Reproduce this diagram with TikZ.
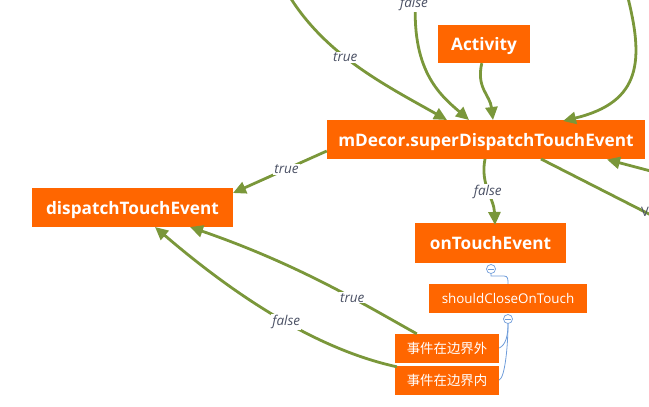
\documentclass[tikz,border=0pt]{standalone}
\usepackage{fontspec}
\setmainfont{Open Sans}
\newfontfamily\cjkf{Noto Sans CJK SC}
\usetikzlibrary{arrows.meta}
\definecolor{orng}{HTML}{FF6600}
\definecolor{grn}{HTML}{7A973A}
\definecolor{blu}{HTML}{6E9CDA}
\definecolor{lbl}{HTML}{4A5064}
\tikzset{
  box/.style={fill=orng, text=white, inner sep=0pt, text height=13pt, text depth=0pt, font=\bfseries\fontsize{17.2}{19}\selectfont},
  sbox/.style={fill=orng, text=white, inner sep=0pt, text height=9.5pt, text depth=0pt, font=\fontsize{13.4}{15}\selectfont},
  cbox/.style={fill=orng, text=white, inner sep=0pt, text height=10.5pt, text depth=0pt, font=\cjkf\fontsize{13.4}{15}\selectfont},
  conn/.style={draw=grn, line width=2.8pt, -{Triangle[length=13pt,width=12pt]}},
  plain/.style={draw=grn, line width=2.8pt},
  elbl/.style={fill=white, text=lbl, inner sep=1pt, font=\itshape\fontsize{13.5}{15}\selectfont},
  tog/.style={circle, draw=blu, fill=white, line width=0.7pt, minimum size=9pt, inner sep=0pt},
  bl/.style={draw=blu, line width=0.8pt},
}
\begin{document}
\begin{tikzpicture}[x=1pt,y=-1pt]
\useasboundingbox (0,0) rectangle (649,407);
% nodes
\node[box, minimum width=92pt, minimum height=38pt] (act) at (484,44) {Activity};
\node[box, minimum width=318pt, minimum height=39pt] (mdec) at (486,139.5) {mDecor.superDispatchTouchEvent};
\node[box, minimum width=201pt, minimum height=39pt] (dte) at (132.5,207.5) {dispatchTouchEvent};
\node[box, minimum width=151pt, minimum height=40pt] (ote) at (490.5,243) {onTouchEvent};
\node[sbox, minimum width=158pt, minimum height=29pt] (scot) at (508,298.5) {shouldCloseOnTouch};
\node[cbox, minimum width=104pt, minimum height=29pt] (ev1) at (447,348.5) {事件在边界外};
\node[cbox, minimum width=104pt, minimum height=29pt] (ev2) at (447,380.5) {事件在边界内};
% off-picture endpoints
\coordinate (s1) at (288,-6);
\coordinate (s2) at (416,-6);
\coordinate (s4) at (627,-6);
\coordinate (s7) at (662,174);
\coordinate (e8) at (700,240);
% green connectors
\draw[conn] (s1) .. controls (325,55) and (385,85) .. (447,120)
  node[elbl, pos=0.42] (l1) {true};
\draw[conn] (s2) .. controls (410,70) and (440,95) .. (469,120);
\node[elbl] (l2) at (414,4) {false};
\draw[conn] (act.south west) ++(44,0) .. controls (476,88) and (490,95) .. (493,120);
\draw[conn] (s4) .. controls (644,60) and (642,102) .. (563,121);
\draw[conn] (mdec.west |- 0,151) -- (233,193) node[elbl, pos=0.43] (l5) {true};
\draw[conn] (485,159) .. controls (480,185) and (494,198) .. (495,225)
  node[elbl, pos=0.5] (l6) {false};
\draw[conn] (s7) -- (607,159.5);
\draw[plain] (541,159) -- (e8);
\node[text=lbl, font=\fontsize{13}{15}\selectfont, anchor=west, inner sep=0pt] (l8) at (641,212) {V};
\draw[conn] (ev1.north west) ++(22,0) .. controls (365,305) and (300,265) .. (190,227)
  node[elbl, pos=0.37] (l9) {true};
\draw[conn] (ev2.north west) ++(2,1) .. controls (320,350) and (240,300) .. (155,227)
  node[elbl, pos=0.47] (l10) {false};
% blue toggles
\node[tog] (t1) at (491,269) {};
\draw[blu, line width=0.7pt] (488,269) -- (494,269);
\node[tog] (t2) at (508,319) {};
\draw[blu, line width=0.7pt] (505,319) -- (511,319);
\draw[bl] (t1.south) -- (491,276) -- (504,276) .. controls (508,276) and (508,279) .. (scot.north);
\draw[bl] (t2.south) .. controls (508,335) and (506,345) .. (ev1.east |- 0,348);
\draw[bl] (t2.south) .. controls (508,345) and (505,378) .. (ev2.east |- 0,380);
\end{tikzpicture}
\end{document}
